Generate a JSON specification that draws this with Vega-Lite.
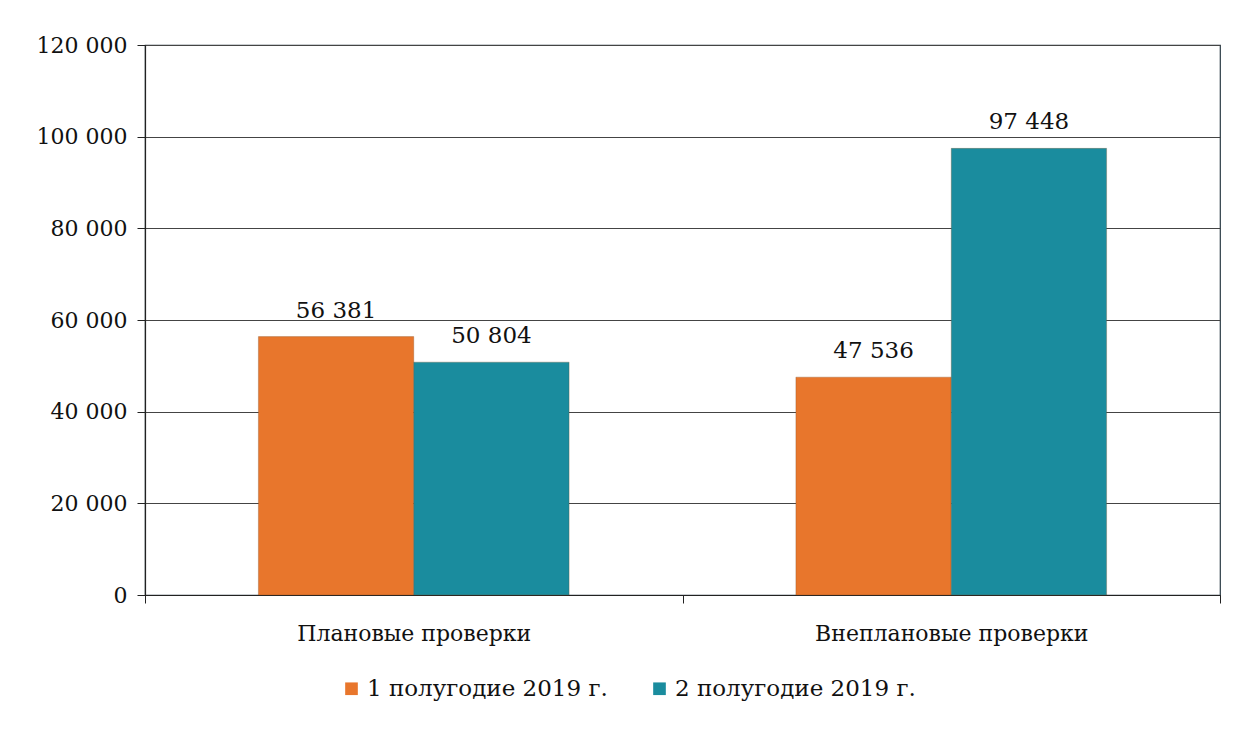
{
  "$schema": "https://vega.github.io/schema/vega-lite/v6.json",
  "width": 1075,
  "height": 550,
  "autosize": {"type": "none"},
  "padding": {"left": 145, "top": 45, "right": 20, "bottom": 134},
  "background": "white",
  "data": {"values": [
    {"cat": "Плановые проверки", "period": "1 полугодие 2019 г.", "value": 56381, "label": "56 381"},
    {"cat": "Плановые проверки", "period": "2 полугодие 2019 г.", "value": 50804, "label": "50 804"},
    {"cat": "Внеплановые проверки", "period": "1 полугодие 2019 г.", "value": 47536, "label": "47 536"},
    {"cat": "Внеплановые проверки", "period": "2 полугодие 2019 г.", "value": 97448, "label": "97 448"}
  ]},
  "config": {
    "font": "DejaVu Serif",
    "view": {"stroke": "#2a3a44", "strokeWidth": 1.2},
    "axis": {"labelFont": "DejaVu Serif", "labelColor": "#111", "domainColor": "#222", "tickColor": "#222", "gridColor": "#444"},
    "legend": {"labelFont": "DejaVu Serif"}
  },
  "encoding": {
    "x": {"field": "cat", "type": "nominal", "sort": ["Плановые проверки", "Внеплановые проверки"],
      "scale": {"paddingInner": 0, "paddingOuter": 0},
      "axis": {"title": null, "labelAngle": 0, "labelFontSize": 22, "labelLimit": 0, "labelPadding": 20, "ticks": true, "tickBand": "extent", "tickSize": 8, "domainWidth": 1.2}},
    "xOffset": {"field": "period", "type": "nominal", "scale": {"paddingInner": 0, "paddingOuter": 0.73}},
    "y": {"field": "value", "type": "quantitative",
      "scale": {"domain": [0, 120000], "nice": false},
      "axis": {"title": null, "values": [0, 20000, 40000, 60000, 80000, 100000, 120000], "labelExpr": "replace(format(datum.value, ',d'), ',', ' ')", "labelFontSize": 22, "labelLimit": 0, "tickSize": 8, "labelPadding": 10, "grid": true, "gridWidth": 1, "domainWidth": 1.2}}
  },
  "layer": [
    {
      "mark": {"type": "bar", "stroke": "#7a4a20", "strokeWidth": 0.6, "strokeOpacity": 0.5},
      "encoding": {
        "color": {"field": "period", "type": "nominal",
          "scale": {"domain": ["1 полугодие 2019 г.", "2 полугодие 2019 г."], "range": ["#E8762C", "#1A8C9E"]},
          "legend": {"title": null, "orient": "none", "legendX": 195, "legendY": 632, "direction": "horizontal", "symbolType": "square", "symbolSize": 160, "symbolStrokeWidth": 0, "labelFontSize": 23, "labelLimit": 0, "labelColor": "#111", "columnPadding": 40, "labelOffset": 4}}
      }
    },
    {
      "mark": {"type": "text", "baseline": "bottom", "dy": -14, "fontSize": 23, "font": "DejaVu Serif", "color": "#111"},
      "encoding": {"text": {"field": "label"}}
    }
  ]
}
